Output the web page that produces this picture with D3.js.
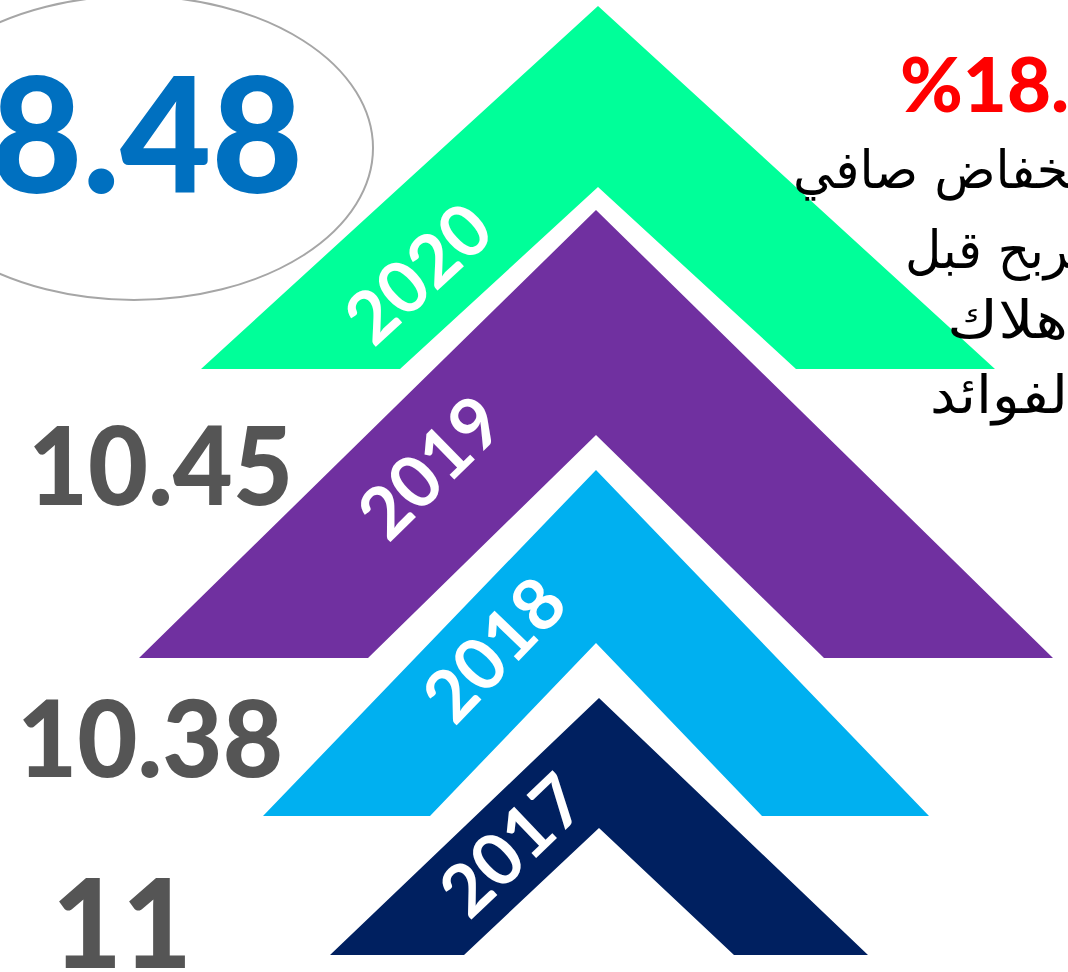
<!DOCTYPE html>
<html>
<head>
<meta charset="utf-8">
<script src="https://cdn.jsdelivr.net/npm/d3@7"></script>
<style>
  html, body { margin: 0; padding: 0; background: #fff; }
  svg { display: block; }
</style>
</head>
<body>
<div id="chart"></div>
<script>
// data
var years = [2017, 2018, 2019, 2020];
var values = ["11", "10.38", "10.45", "8.48"];
var changeLabel = "%18.";
var captionLines = ["انخفاض صافي", "الربح قبل", "الإهلاك", "والفوائد"];
// part of each caption line still on screen (the rest runs off the right edge)
var captionShown = ["خفاض صافي", "ربح قبل", "هلاك", "لفوائد"];

var width = 1068, height = 972;

var svg = d3.select('#chart').append('svg')
    .attr('width', width)
    .attr('height', height);

// chevron geometry per year (apex x, apex y, base y, outer half width, inner apex y, inner half width)
var geom = d3.scaleOrdinal()
    .domain(years)
    .range([
        {cx: 599, ay: 698, by: 955, hw: 269, iy: 828, ihw: 135},
        {cx: 596, ay: 470, by: 816, hw: 333, iy: 643, ihw: 166},
        {cx: 596, ay: 210, by: 658, hw: 457, iy: 435, ihw: 228},
        {cx: 598, ay: 6,   by: 369, hw: 397, iy: 187, ihw: 198}
    ]);

var color = d3.scaleOrdinal()
    .domain(years)
    .range(["#002060", "#00B0F0", "#7030A0", "#00FF99"]);

// where the year label sits in the left arm
var labelPos = d3.scaleOrdinal()
    .domain(years)
    .range([[512, 845], [494, 649], [430, 467], [418, 273]]);

// value labels on the left
var valuePos = d3.scaleOrdinal()
    .domain(years)
    .range([
        {x: 192, y: 968, size: 124, len: 140, fill: "#555555"},
        {x: 283, y: 777, size: 107, len: 266, fill: "#555555"},
        {x: 293, y: 505, size: 108, len: 265, fill: "#555555"},
        {x: 303, y: 193, size: 160, len: 312, fill: "#0070C0"}
    ]);

var line = d3.line();

function chevron(g) {
    return [
        [g.cx - g.hw, g.by],
        [g.cx, g.ay],
        [g.cx + g.hw, g.by],
        [g.cx + g.ihw, g.by],
        [g.cx, g.iy],
        [g.cx - g.ihw, g.by]
    ];
}

// ellipse round the latest value
svg.append('ellipse')
    .attr('cx', 134)
    .attr('cy', 148)
    .attr('rx', 239)
    .attr('ry', 152)
    .style('fill', 'none')
    .style('stroke', '#A6A6A6')
    .style('stroke-width', 2);

var data = years.map(function(y, i) { return {year: y, value: values[i]}; });

svg.selectAll('path.chev')
    .data(data.slice().reverse())
    .enter().append('path')
    .attr('class', 'chev')
    .attr('d', function(d) { return line(chevron(geom(d.year))) + 'Z'; })
    .style('fill', function(d) { return color(d.year); });

svg.selectAll('text.year')
    .data(data)
    .enter().append('text')
    .attr('class', 'year')
    .attr('transform', function(d) {
        var g = geom(d.year);
        var ang = -Math.atan2(g.by - g.ay, g.hw) * 180 / Math.PI;
        var p = labelPos(d.year);
        return 'translate(' + p[0] + ',' + p[1] + ') rotate(' + ang + ')';
    })
    .attr('text-anchor', 'middle')
    .attr('dy', '0.36em')
    .style('font-family', 'Lato, sans-serif')
    .style('font-weight', 700)
    .style('font-size', '72px')
    .style('fill', '#fff')
    .text(function(d) { return d.year; });

svg.selectAll('text.value')
    .data(data)
    .enter().append('text')
    .attr('class', 'value')
    .attr('x', function(d) { return valuePos(d.year).x; })
    .attr('y', function(d) { return valuePos(d.year).y; })
    .attr('text-anchor', 'end')
    .attr('textLength', function(d) { return valuePos(d.year).len; })
    .attr('lengthAdjust', 'spacingAndGlyphs')
    .style('font-family', 'Lato, sans-serif')
    .style('font-weight', 900)
    .style('font-size', function(d) { return valuePos(d.year).size + 'px'; })
    .style('fill', function(d) { return valuePos(d.year).fill; })
    .text(function(d) { return d.value; });

// red change figure
svg.append('text')
    .attr('x', 900)
    .attr('y', 112)
    .style('font-family', 'Lato, sans-serif')
    .style('font-weight', 900)
    .style('font-size', '76px')
    .style('fill', '#FF0000')
    .text(changeLabel);

// arabic caption, cut by the right edge like the original
var captionLeft = [793, 905, 947, 930];
var captionBase = [188, 268, 338, 413];
var capFont = '"DejaVu Sans", sans-serif';

function measure(str) {
    var t = svg.append('text')
        .style('font-family', capFont)
        .style('font-size', '52px')
        .text(str);
    var w = t.node().getComputedTextLength();
    t.remove();
    return w;
}

svg.selectAll('text.cap')
    .data(captionLines)
    .enter().append('text')
    .attr('class', 'cap')
    .attr('x', function(d, i) { return captionLeft[i]; })
    .attr('y', function(d, i) { return captionBase[i]; })
    .style('font-family', capFont)
    .style('font-size', '52px')
    .style('fill', '#000')
    .text(function(d) { return d; })
    .attr('textLength', function(d, i) {
        // stretch so the visible words fill the same room as in the original
        var k = (width - captionLeft[i]) / measure(captionShown[i]);
        return measure(d) * k;
    })
    .attr('lengthAdjust', 'spacingAndGlyphs');
</script>
</body>
</html>
